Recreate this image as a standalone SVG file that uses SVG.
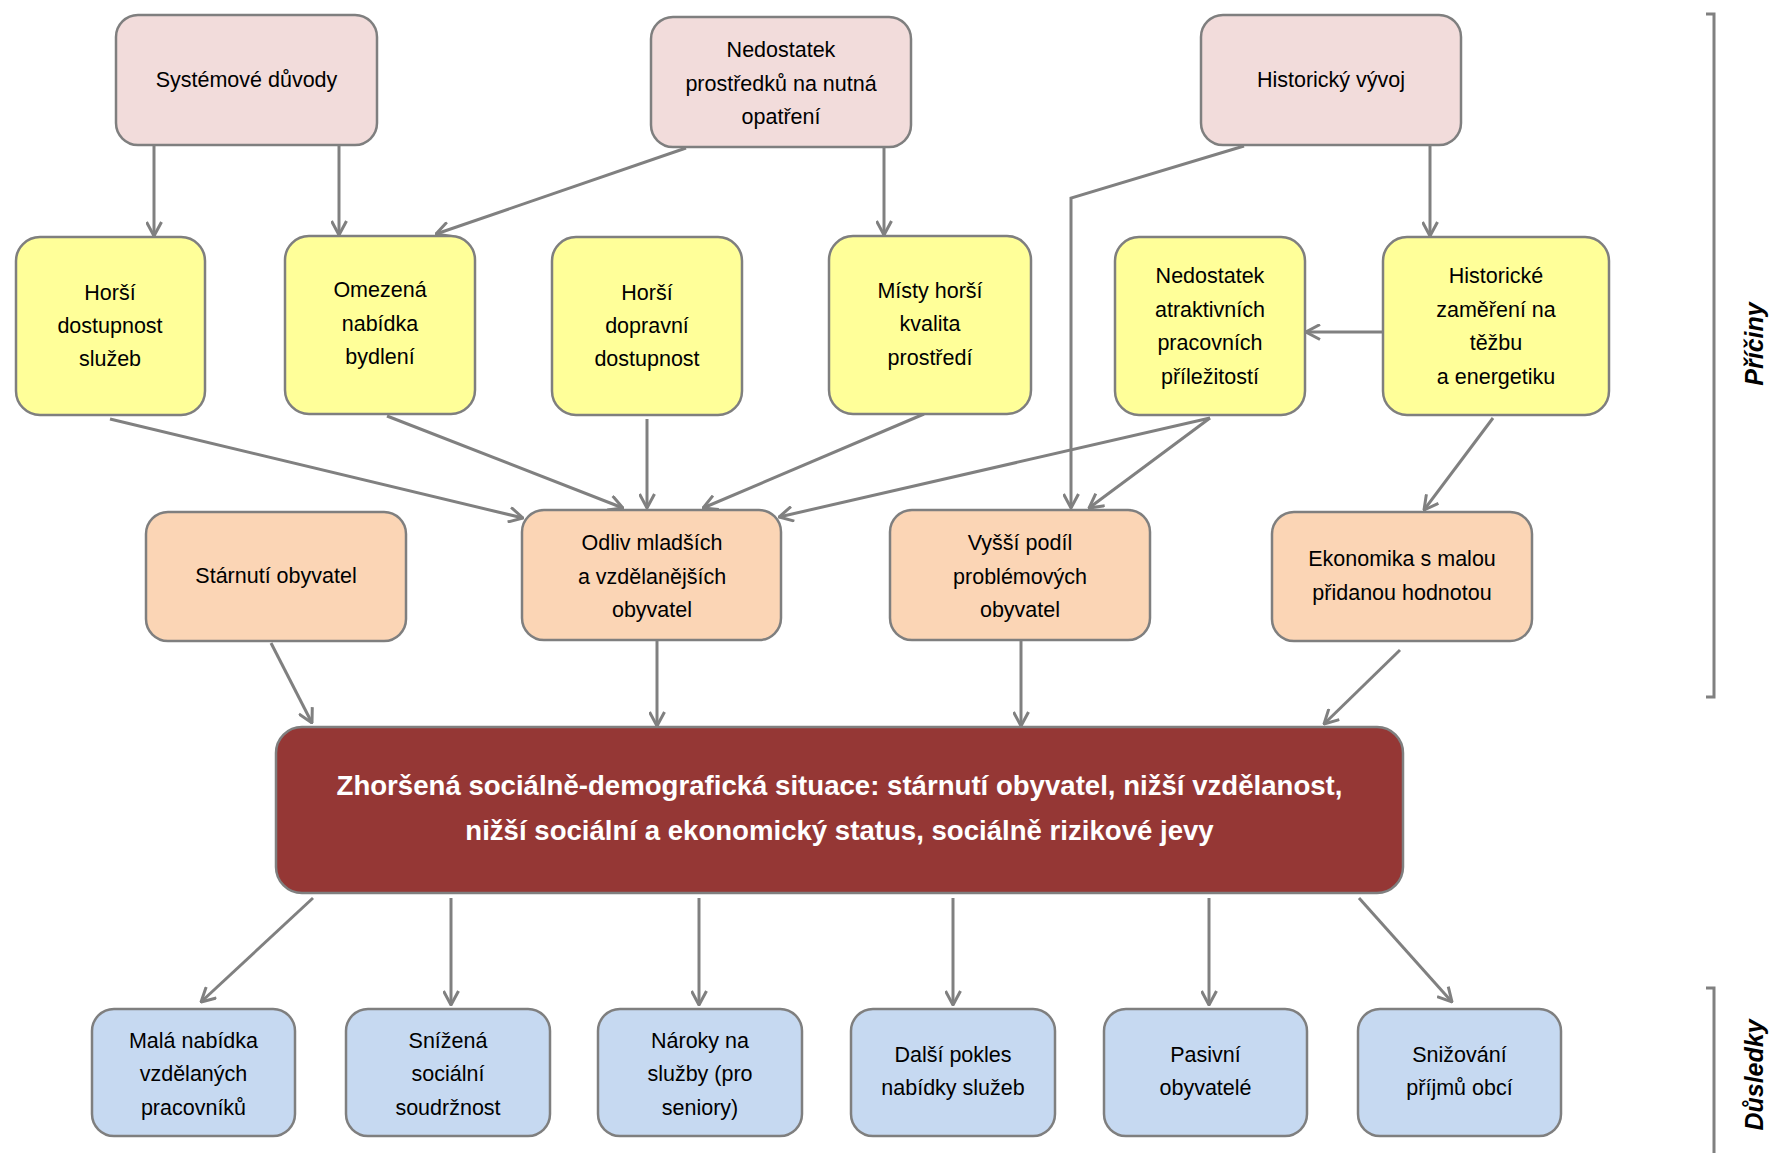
<svg xmlns="http://www.w3.org/2000/svg" width="1773" height="1153" viewBox="0 0 1773 1153">
<style>
.box{stroke:#7f7f7f;stroke-width:2.5}
.pink{fill:#f2dcdb}.yel{fill:#ffff99}.peach{fill:#fbd5b5}.blue{fill:#c6d9f1}.main{fill:#953735}
.t{font-family:"Liberation Sans",Arial,sans-serif;font-size:21.5px;fill:#000;text-anchor:middle}
.mt{font-family:"Liberation Sans",Arial,sans-serif;font-size:27.6px;font-weight:bold;fill:#fff;text-anchor:middle}
.lab{font-family:"Liberation Sans",Arial,sans-serif;font-size:25px;font-weight:bold;font-style:italic;fill:#000;text-anchor:middle}
.c{stroke:#808080;stroke-width:3;fill:none;marker-end:url(#ah)}
.br{stroke:#808080;stroke-width:3;fill:none}
</style>
<defs>
<marker id="ah" viewBox="0 0 17 17" refX="16" refY="8.5" markerWidth="17" markerHeight="17" markerUnits="userSpaceOnUse" orient="auto">
<path d="M2,1 L16,8.5 L2,16" fill="none" stroke="#808080" stroke-width="3"/>
</marker>
</defs>
<rect width="1773" height="1153" fill="#fff"/>
<g id="connectors">
<line class="c" x1="154" y1="145" x2="154" y2="236"/>
<line class="c" x1="339" y1="145" x2="339" y2="235"/>
<line class="c" x1="686" y1="148" x2="436" y2="234"/>
<line class="c" x1="884" y1="147" x2="884" y2="235"/>
<line class="c" x1="1430" y1="145" x2="1430" y2="236"/>
<polyline class="c" points="1244,146 1071,198 1071,508"/>
<line class="c" x1="1382" y1="332" x2="1306" y2="332"/>
<line class="c" x1="1493" y1="418" x2="1424" y2="510"/>
<line class="c" x1="110" y1="419" x2="523" y2="518"/>
<line class="c" x1="387" y1="416" x2="623" y2="508"/>
<line class="c" x1="647" y1="419" x2="647" y2="508"/>
<line class="c" x1="924" y1="414" x2="703" y2="508"/>
<line class="c" x1="1210" y1="418" x2="779" y2="517"/>
<line class="c" x1="1210" y1="418" x2="1089" y2="508"/>
<line class="c" x1="271" y1="643" x2="312" y2="723"/>
<line class="c" x1="657" y1="641" x2="657" y2="726"/>
<line class="c" x1="1021" y1="641" x2="1021" y2="726"/>
<line class="c" x1="1400" y1="650" x2="1324" y2="724"/>
<line class="c" x1="313" y1="898" x2="201" y2="1002"/>
<line class="c" x1="451" y1="898" x2="451" y2="1005"/>
<line class="c" x1="699" y1="898" x2="699" y2="1005"/>
<line class="c" x1="953" y1="898" x2="953" y2="1005"/>
<line class="c" x1="1209" y1="898" x2="1209" y2="1005"/>
<line class="c" x1="1359" y1="898" x2="1452" y2="1002"/>
</g>
<g id="n1"><rect class="box pink" x="116" y="15" width="261" height="130" rx="22"/><text class="t" x="246.5" y="87">Systémové důvody</text></g>
<g id="n2"><rect class="box pink" x="651" y="17" width="260" height="130" rx="22"/><text class="t"><tspan x="781" y="57">Nedostatek</tspan><tspan x="781" y="91">prostředků na nutná</tspan><tspan x="781" y="124">opatření</tspan></text></g>
<g id="n3"><rect class="box pink" x="1201" y="15" width="260" height="130" rx="22"/><text class="t" x="1331" y="87">Historický vývoj</text></g>
<g id="n4"><rect class="box yel" x="16" y="237" width="189" height="178" rx="24"/><text class="t"><tspan x="110" y="300">Horší</tspan><tspan x="110" y="333">dostupnost</tspan><tspan x="110" y="366">služeb</tspan></text></g>
<g id="n5"><rect class="box yel" x="285" y="236" width="190" height="178" rx="24"/><text class="t"><tspan x="380" y="297">Omezená</tspan><tspan x="380" y="331">nabídka</tspan><tspan x="380" y="364">bydlení</tspan></text></g>
<g id="n6"><rect class="box yel" x="552" y="237" width="190" height="178" rx="24"/><text class="t"><tspan x="647" y="300">Horší</tspan><tspan x="647" y="333">dopravní</tspan><tspan x="647" y="366">dostupnost</tspan></text></g>
<g id="n7"><rect class="box yel" x="829" y="236" width="202" height="178" rx="24"/><text class="t"><tspan x="930" y="298">Místy horší</tspan><tspan x="930" y="331">kvalita</tspan><tspan x="930" y="365">prostředí</tspan></text></g>
<g id="n8"><rect class="box yel" x="1115" y="237" width="190" height="178" rx="24"/><text class="t"><tspan x="1210" y="283">Nedostatek</tspan><tspan x="1210" y="316.5">atraktivních</tspan><tspan x="1210" y="350">pracovních</tspan><tspan x="1210" y="383.5">příležitostí</tspan></text></g>
<g id="n9"><rect class="box yel" x="1383" y="237" width="226" height="178" rx="24"/><text class="t"><tspan x="1496" y="283">Historické</tspan><tspan x="1496" y="316.5">zaměření na</tspan><tspan x="1496" y="350">těžbu</tspan><tspan x="1496" y="383.5">a energetiku</tspan></text></g>
<g id="n10"><rect class="box peach" x="146" y="512" width="260" height="129" rx="22"/><text class="t" x="276" y="583">Stárnutí obyvatel</text></g>
<g id="n11"><rect class="box peach" x="522" y="510" width="259" height="130" rx="22"/><text class="t"><tspan x="652" y="550">Odliv mladších</tspan><tspan x="652" y="584">a vzdělanějších</tspan><tspan x="652" y="617">obyvatel</tspan></text></g>
<g id="n12"><rect class="box peach" x="890" y="510" width="260" height="130" rx="22"/><text class="t"><tspan x="1020" y="550">Vyšší podíl</tspan><tspan x="1020" y="584">problémových</tspan><tspan x="1020" y="617">obyvatel</tspan></text></g>
<g id="n13"><rect class="box peach" x="1272" y="512" width="260" height="129" rx="22"/><text class="t"><tspan x="1402" y="566">Ekonomika s malou</tspan><tspan x="1402" y="600">přidanou hodnotou</tspan></text></g>
<g id="main"><rect class="box main" x="276" y="727" width="1127" height="166" rx="26"/><text class="mt"><tspan x="839.5" y="795">Zhoršená sociálně-demografická situace: stárnutí obyvatel, nižší vzdělanost,</tspan><tspan x="839.5" y="840">nižší sociální a ekonomický status, sociálně rizikové jevy</tspan></text></g>
<g id="b1"><rect class="box blue" x="92" y="1009" width="203" height="127" rx="22"/><text class="t"><tspan x="193.5" y="1047.5">Malá nabídka</tspan><tspan x="193.5" y="1081">vzdělaných</tspan><tspan x="193.5" y="1114.5">pracovníků</tspan></text></g>
<g id="b2"><rect class="box blue" x="346" y="1009" width="204" height="127" rx="22"/><text class="t"><tspan x="448" y="1047.5">Snížená</tspan><tspan x="448" y="1081">sociální</tspan><tspan x="448" y="1114.5">soudržnost</tspan></text></g>
<g id="b3"><rect class="box blue" x="598" y="1009" width="204" height="127" rx="22"/><text class="t"><tspan x="700" y="1047.5">Nároky na</tspan><tspan x="700" y="1081">služby (pro</tspan><tspan x="700" y="1114.5">seniory)</tspan></text></g>
<g id="b4"><rect class="box blue" x="851" y="1009" width="204" height="127" rx="22"/><text class="t"><tspan x="953" y="1061.5">Další pokles</tspan><tspan x="953" y="1095">nabídky služeb</tspan></text></g>
<g id="b5"><rect class="box blue" x="1104" y="1009" width="203" height="127" rx="22"/><text class="t"><tspan x="1205.5" y="1061.5">Pasivní</tspan><tspan x="1205.5" y="1095">obyvatelé</tspan></text></g>
<g id="b6"><rect class="box blue" x="1358" y="1009" width="203" height="127" rx="22"/><text class="t"><tspan x="1459.5" y="1061.5">Snižování</tspan><tspan x="1459.5" y="1095">příjmů obcí</tspan></text></g>
<g id="bracket-priciny"><polyline class="br" points="1706,14 1714,14 1714,697 1706,697"/><text class="lab" transform="translate(1763,344) rotate(-90)">Příčiny</text></g>
<g id="bracket-dusledky"><polyline class="br" points="1706,988 1714,988 1714,1153"/><text class="lab" transform="translate(1763,1075) rotate(-90)">Důsledky</text></g>
</svg>
